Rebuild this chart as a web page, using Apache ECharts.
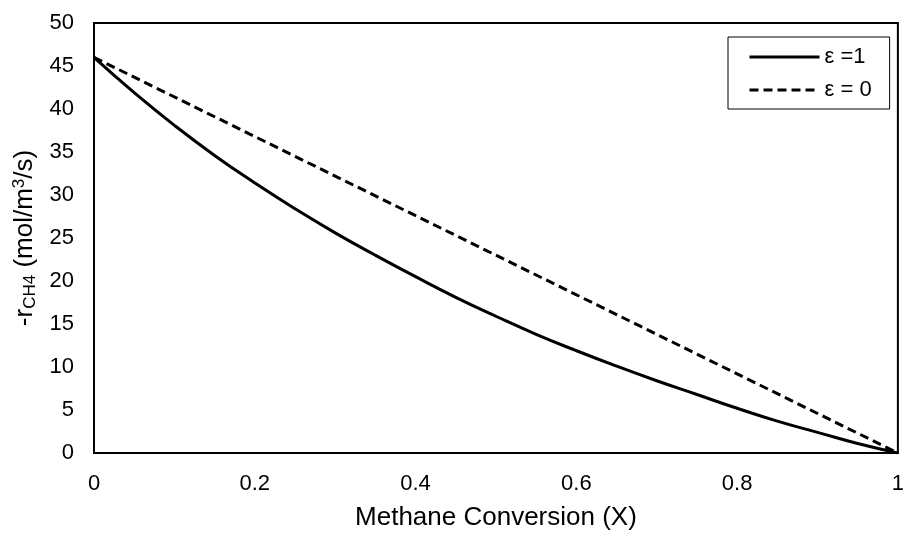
<!DOCTYPE html>
<html>
<head>
<meta charset="utf-8">
<script src="https://cdn.jsdelivr.net/npm/echarts@6/dist/echarts.min.js"></script>
<style>html,body{margin:0;padding:0;background:#fff;}#c{width:907px;height:536px;}</style>
</head>
<body>
<div id="c"></div>
<script>
var conversionX = [0, 0.05, 0.1, 0.15, 0.2, 0.25, 0.3, 0.35, 0.4, 0.45, 0.5, 0.55, 0.6, 0.65, 0.7, 0.75, 0.8, 0.85, 0.9, 0.95, 1];
var rateEps1 = [46, 41.9, 38.1, 34.6, 31.4, 28.4, 25.6, 23.0, 20.5, 18.1, 15.9, 13.8, 11.9, 10.1, 8.4, 6.8, 5.2, 3.7, 2.4, 1.1, 0];
var conversionX0 = [0, 1];
var rateEps0 = [46, 0];
var seriesNames = ['ε =1', 'ε = 0'];

var font = 'Liberation Sans, Arial, sans-serif';
function pairs(xs, ys) { return xs.map(function (x, i) { return [x, ys[i]]; }); }

var chart = echarts.init(document.getElementById('c'));
chart.setOption({
  animation: false,
  backgroundColor: '#fff',
  textStyle: { fontFamily: font, color: '#000' },
  grid: { left: 94, right: 8, top: 23, bottom: 80, show: true, borderColor: '#000', borderWidth: 2 },
  legend: {
    left: 728, top: 37,
    orient: 'vertical',
    backgroundColor: '#fff',
    borderColor: '#000', borderWidth: 1,
    padding: [8, 18, 7, 20],
    itemWidth: 70, itemHeight: 14, itemGap: 9,
    itemStyle: { opacity: 0 },
    lineStyle: { width: 3 },
    textStyle: { fontFamily: font, fontSize: 22, color: '#000', lineHeight: 24 },
    data: seriesNames
  },
  xAxis: {
    type: 'value', min: 0, max: 1, interval: 0.2,
    name: 'Methane Conversion (X)', nameLocation: 'middle', nameGap: 52,
    nameTextStyle: { fontFamily: font, fontSize: 26, color: '#000' },
    axisLine: { show: true, lineStyle: { color: '#000', width: 2 } },
    axisTick: { show: false },
    splitLine: { show: false },
    axisLabel: { fontFamily: font, fontSize: 22, color: '#000', margin: 20 }
  },
  yAxis: {
    type: 'value', min: 0, max: 50, interval: 5,
    name: '{n|-r}{sub|CH4}{n| (mol/m}{sup|3}{n|/s)}', nameLocation: 'middle', nameGap: 55,
    nameTextStyle: {
      fontFamily: font, fontSize: 26, color: '#000',
      rich: {
        n: { fontFamily: font, fontSize: 26, color: '#000' },
        sub: { fontFamily: font, fontSize: 17, color: '#000', verticalAlign: 'bottom', padding: [11, 0, 0, 0] },
        sup: { fontFamily: font, fontSize: 17, color: '#000', verticalAlign: 'top', padding: [0, 0, 11, 0] }
      }
    },
    axisLine: { show: true, lineStyle: { color: '#000', width: 2 } },
    axisTick: { show: false },
    splitLine: { show: false },
    axisLabel: { fontFamily: font, fontSize: 22, color: '#000', margin: 20 }
  },
  series: [
    {
      name: seriesNames[0], type: 'line', smooth: 0.5, symbol: 'none',
      lineStyle: { color: '#000', width: 3, type: 'solid' },
      itemStyle: { color: '#000' },
      data: pairs(conversionX, rateEps1)
    },
    {
      name: seriesNames[1], type: 'line', symbol: 'none',
      lineStyle: { color: '#000', width: 3, type: [9, 5] },
      itemStyle: { color: '#000' },
      data: pairs(conversionX0, rateEps0)
    }
  ]
});
</script>
</body>
</html>
